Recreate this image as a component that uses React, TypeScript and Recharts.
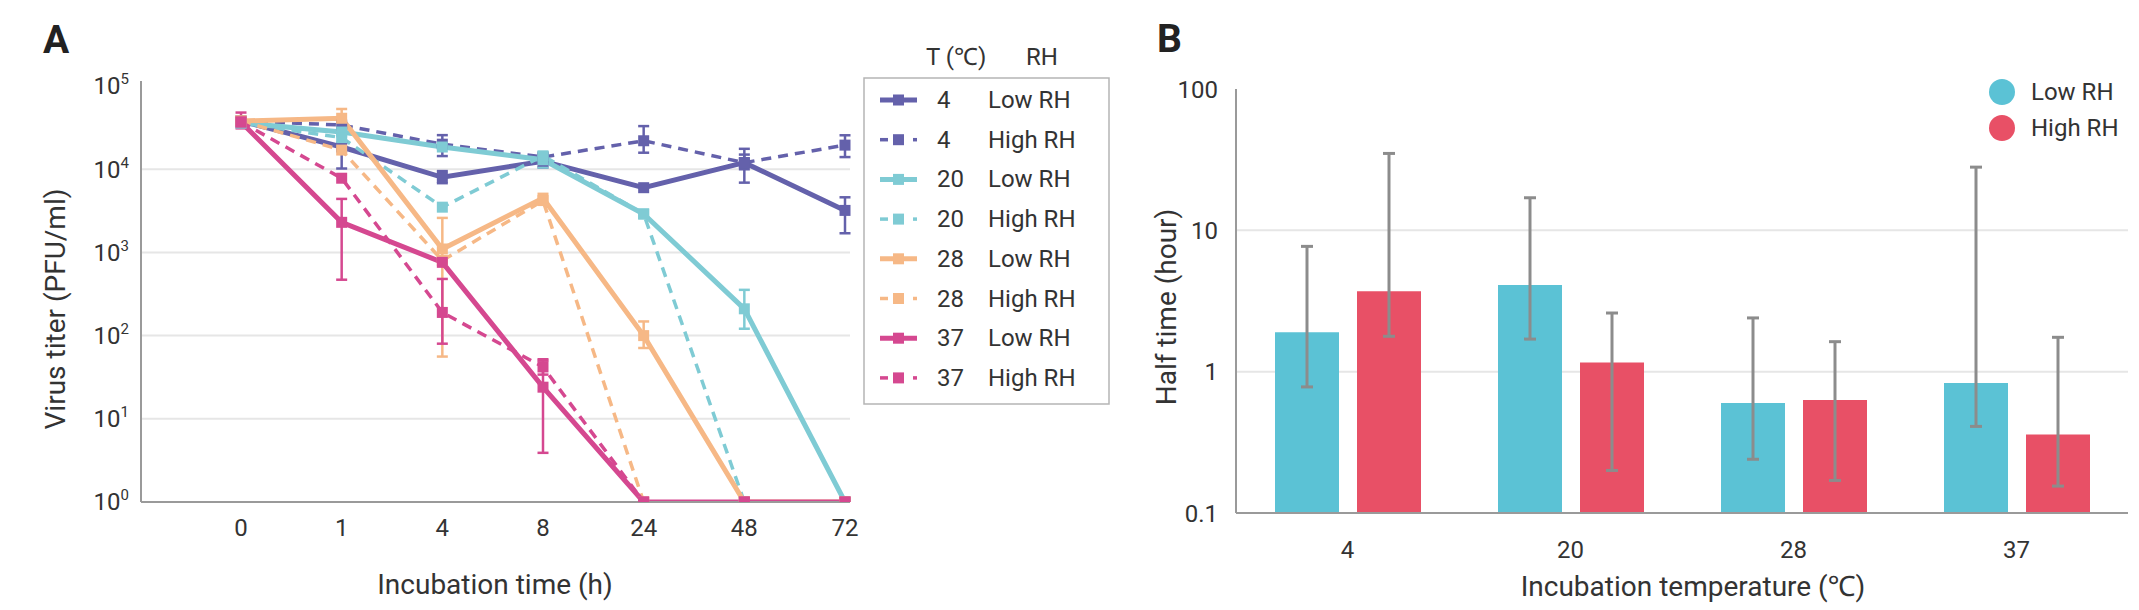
import React from "react";
import { LineChart, Line, XAxis, YAxis, CartesianGrid, ErrorBar, BarChart, Bar } from "recharts";

const FONT = "Roboto, 'Noto Sans', 'DejaVu Sans', sans-serif";
const TEXT = "#333333";
const AXIS = "#9a9a9a";
const GRID = "#e6e6e6";

// ---- Panel A: virus titer over time ----
const times = ["0", "1", "4", "8", "24", "48", "72"];

const t4Low = [38000, 18500, 8000, 12500, 6000, 12000, 3200];
const t4High = [38000, 34000, 20000, 14000, 22000, 12000, 19500];
const t20Low = [36000, 28000, 18500, 13000, 2900, 210, 1];
const t20High = [36000, 24000, 3500, 14500, 2900, 1, 1];
const t28Low = [38000, 41000, 1100, 4500, 100, 1, 1];
const t28High = [38000, 17000, 800, 4200, 1, 1, 1];
const t37Low = [37000, 2300, 760, 24, 1, 1, 1];
const t37High = [37000, 7800, 190, 42, 1, 1, 1];

// error bar bounds (low, high); null = no bar
const e4Low = [null, [10200, 27000], [6800, 9500], [10500, 15000], null, [6900, 17600], [1700, 4600]];
const e4High = [null, null, [14400, 25700], null, [15800, 33000], [10000, 15000], [14000, 25600]];
const e20Low = [null, null, null, [10500, 16000], null, [121, 355], null];
const e20High = [null, null, null, null, null, null, null];
const e28Low = [null, [30000, 53000], [56, 2600], null, [71, 148], null, null];
const e28High = [null, null, null, null, null, null, null];
const e37Low = [[31000, 48000], [470, 4400], null, [3.9, 50], null, null, null];
const e37High = [null, null, [80, 480], [34, 52], null, null, null];

const PURPLE = "#6461ab";
const CYAN = "#7fcbd4";
const ORANGE = "#f6b886";
const MAGENTA = "#d54890";

const series = [
  { key: "t4Low", temp: "4", rh: "Low RH", color: PURPLE, dashed: false, values: t4Low, err: e4Low },
  { key: "t4High", temp: "4", rh: "High RH", color: PURPLE, dashed: true, values: t4High, err: e4High },
  { key: "t20Low", temp: "20", rh: "Low RH", color: CYAN, dashed: false, values: t20Low, err: e20Low },
  { key: "t20High", temp: "20", rh: "High RH", color: CYAN, dashed: true, values: t20High, err: e20High },
  { key: "t28Low", temp: "28", rh: "Low RH", color: ORANGE, dashed: false, values: t28Low, err: e28Low },
  { key: "t28High", temp: "28", rh: "High RH", color: ORANGE, dashed: true, values: t28High, err: e28High },
  { key: "t37Low", temp: "37", rh: "Low RH", color: MAGENTA, dashed: false, values: t37Low, err: e37Low },
  { key: "t37High", temp: "37", rh: "High RH", color: MAGENTA, dashed: true, values: t37High, err: e37High },
];

const titerTicks = [1, 10, 100, 1000, 10000, 100000];

const lineData = times.map((t, i) => {
  const row: any = { time: t };
  series.forEach((s) => {
    row[s.key] = s.values[i];
    const e = s.err[i] as number[] | null;
    if (e) row[s.key + "Err"] = [s.values[i] - e[0], e[1] - s.values[i]];
  });
  return row;
});

// ---- Panel B: half time ----
const temps = ["4", "20", "28", "37"];
const halfLow = [1.9, 4.1, 0.6, 0.83];
const halfLowMin = [0.78, 1.7, 0.24, 0.41];
const halfLowMax = [7.7, 17, 2.4, 28];
const halfHigh = [3.7, 1.16, 0.63, 0.36];
const halfHighMin = [1.78, 0.2, 0.17, 0.155];
const halfHighMax = [35, 2.6, 1.63, 1.75];
const halfTicks = [0.1, 1, 10, 100];

const CYAN_B = "#5bc2d5";
const RED_B = "#e85066";
const ERR_B = "#8c8c8c";

const barData = temps.map((t, i) => ({
  temp: t,
  low: halfLow[i],
  lowErr: [halfLow[i] - halfLowMin[i], halfLowMax[i] - halfLow[i]],
  high: halfHigh[i],
  highErr: [halfHigh[i] - halfHighMin[i], halfHighMax[i] - halfHigh[i]],
}));

const squareDot = (color: string) => (props: any) => {
  const { cx, cy, index } = props;
  if (cx == null || cy == null) return <g key={index} />;
  return <rect key={index} x={cx - 5.5} y={cy - 5.5} width={11} height={11} fill={color} />;
};

const ExpTick = (props: any) => {
  const { x, y, payload } = props;
  const exp = Math.round(Math.log10(payload.value));
  return (
    <text x={x} y={y} textAnchor="end" dy="0.35em" fill={TEXT} fontSize={24} fontFamily={FONT}>
      <tspan>10</tspan>
      <tspan fontSize={15} dy={-10}>{exp}</tspan>
    </text>
  );
};

const tickStyle = { fill: TEXT, fontSize: 24, fontFamily: FONT };

export default function App() {
  const rowY = (i: number) => 100 + i * 39.7;
  return (
    <div style={{ position: "absolute", left: 0, top: 0, width: 2139, height: 610, background: "#fff", fontFamily: FONT }}>
      <div style={{ position: "absolute", left: 0, top: 0 }}>
        <LineChart width={1140} height={610} data={lineData} margin={{ top: 81, right: 290, bottom: 68, left: 61 }}>
          <CartesianGrid vertical={false} horizontalValues={[10, 100, 1000, 10000]} stroke={GRID} strokeWidth={2} />
          <XAxis
            dataKey="time"
            padding={{ left: 100, right: 5 }}
            tickLine={false}
            tickSize={0}
            tickMargin={17}
            height={40}
            interval={0}
            axisLine={{ stroke: AXIS, strokeWidth: 2 }}
            tick={tickStyle}
          />
          <YAxis
            type="number"
            scale="log"
            domain={[1, 115000]}
            allowDataOverflow
            ticks={titerTicks}
            interval={0}
            width={80}
            tickLine={false}
            tickSize={0}
            tickMargin={12}
            axisLine={{ stroke: AXIS, strokeWidth: 2 }}
            tick={<ExpTick />}
          />
          {series.map((s) => (
            <Line
              key={s.key}
              dataKey={s.key}
              type="linear"
              stroke={s.color}
              strokeWidth={s.dashed ? 3.5 : 5}
              strokeDasharray={s.dashed ? "10 7" : undefined}
              dot={squareDot(s.color)}
              activeDot={false}
              isAnimationActive={false}
            >
              <ErrorBar dataKey={s.key + "Err"} stroke={s.color} strokeWidth={2.5} width={5.5} />
            </Line>
          ))}
        </LineChart>
      </div>

      <div style={{ position: "absolute", left: 1140, top: 0 }}>
        <BarChart width={999} height={610} data={barData} margin={{ top: 89, right: 11, bottom: 47, left: 16 }} barSize={64} barGap={18}>
          <CartesianGrid vertical={false} horizontalValues={[1, 10]} stroke={GRID} strokeWidth={2} />
          <XAxis
            dataKey="temp"
            tickLine={false}
            tickSize={0}
            tickMargin={28}
            height={50}
            interval={0}
            axisLine={{ stroke: AXIS, strokeWidth: 2 }}
            tick={tickStyle}
          />
          <YAxis
            type="number"
            scale="log"
            domain={[0.1, 100]}
            allowDataOverflow
            ticks={halfTicks}
            interval={0}
            width={80}
            tickLine={false}
            tickSize={0}
            tickMargin={18}
            axisLine={{ stroke: AXIS, strokeWidth: 2 }}
            tick={tickStyle}
            tickFormatter={(v: number) => String(v)}
          />
          <Bar dataKey="low" fill={CYAN_B} isAnimationActive={false}>
            <ErrorBar dataKey="lowErr" stroke={ERR_B} strokeWidth={3} width={6} />
          </Bar>
          <Bar dataKey="high" fill={RED_B} isAnimationActive={false}>
            <ErrorBar dataKey="highErr" stroke={ERR_B} strokeWidth={3} width={6} />
          </Bar>
        </BarChart>
      </div>

      <svg width={2139} height={610} style={{ position: "absolute", left: 0, top: 0, pointerEvents: "none" }} fontFamily={FONT}>
        <text x={43} y={53} fontSize={39} fontWeight={700} fill="#222">A</text>
        <text x={1157} y={52} fontSize={39} fontWeight={700} fill="#222">B</text>

        <text transform="translate(55,309) rotate(-90)" textAnchor="middle" dominantBaseline="central" fontSize={28} fill={TEXT}>
          Virus titer (PFU/ml)
        </text>
        <text x={495} y={584} textAnchor="middle" dominantBaseline="central" fontSize={28} fill={TEXT}>
          Incubation time (h)
        </text>
        <text transform="translate(1166,307) rotate(-90)" textAnchor="middle" dominantBaseline="central" fontSize={28} fill={TEXT}>
          Half time (hour)
        </text>
        <text x={1693} y={586} textAnchor="middle" dominantBaseline="central" fontSize={28} fill={TEXT}>
          Incubation temperature (℃)
        </text>

        {/* legend A */}
        <text x={926} y={57} dominantBaseline="central" fontSize={24} fill={TEXT}>T (℃)</text>
        <text x={1026} y={57} dominantBaseline="central" fontSize={24} fill={TEXT}>RH</text>
        <rect x={864} y={78} width={245} height={326} fill="none" stroke="#b5b5b5" strokeWidth={1.5} />
        {series.map((s, i) => {
          const y = rowY(i);
          return (
            <g key={s.key}>
              {s.dashed ? (
                <g>
                  <line x1={880} x2={888} y1={y} y2={y} stroke={s.color} strokeWidth={3.5} />
                  <line x1={913} x2={917} y1={y} y2={y} stroke={s.color} strokeWidth={3.5} />
                </g>
              ) : (
                <line x1={880} x2={917} y1={y} y2={y} stroke={s.color} strokeWidth={5} />
              )}
              <rect x={893} y={y - 5.5} width={11} height={11} fill={s.color} />
              <text x={937} y={y} dominantBaseline="central" fontSize={24} fill={TEXT}>{s.temp}</text>
              <text x={988} y={y} dominantBaseline="central" fontSize={24} fill={TEXT}>{s.rh}</text>
            </g>
          );
        })}

        {/* legend B */}
        <circle cx={2002} cy={92} r={13} fill={CYAN_B} />
        <text x={2031} y={92} dominantBaseline="central" fontSize={24} fill={TEXT}>Low RH</text>
        <circle cx={2002} cy={128} r={13} fill={RED_B} />
        <text x={2031} y={128} dominantBaseline="central" fontSize={24} fill={TEXT}>High RH</text>
      </svg>
    </div>
  );
}
